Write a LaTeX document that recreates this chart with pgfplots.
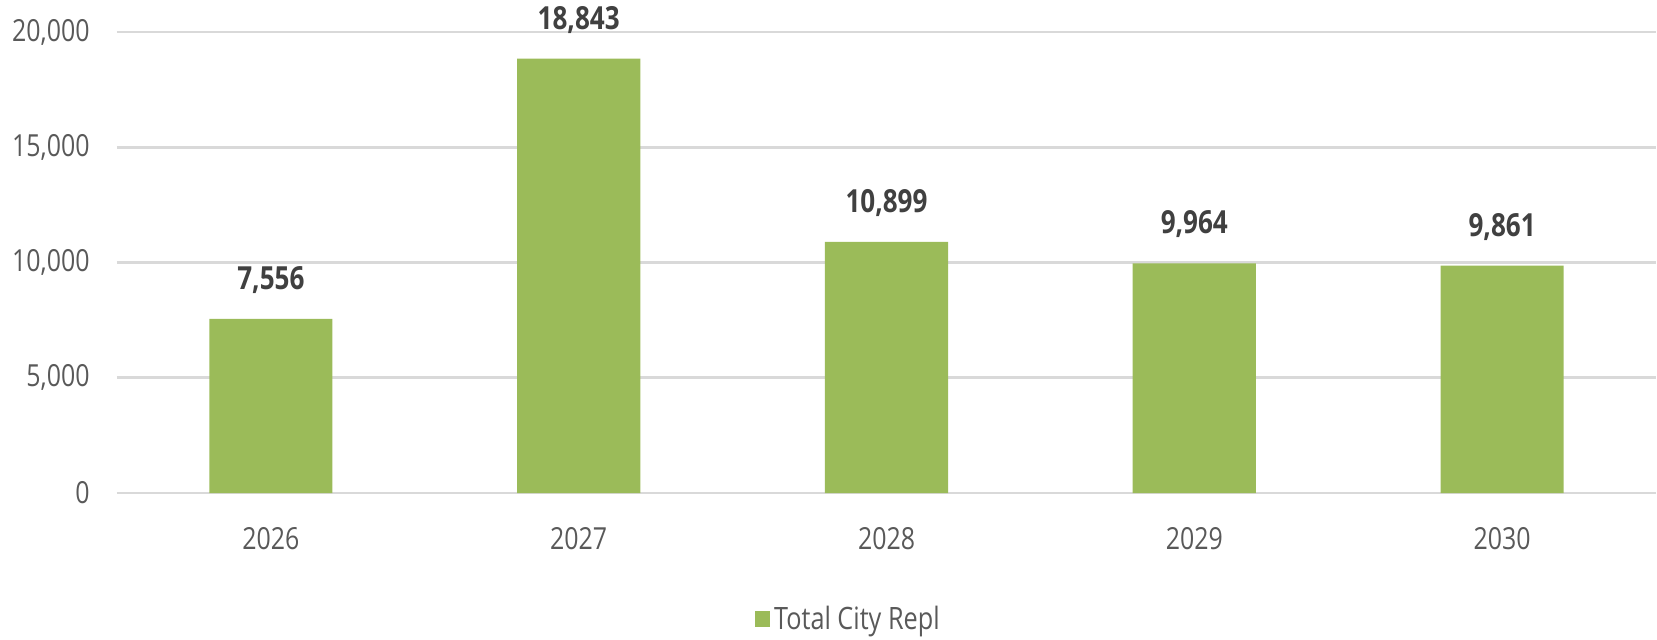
\documentclass[border=0pt]{standalone}
\usepackage{fontspec}
\setmainfont{Open Sans}[FakeStretch=0.82]
\usepackage{pgfplots}
\pgfplotsset{compat=1.18}
\definecolor{bargreen}{HTML}{9BBB59}
\definecolor{gridgray}{HTML}{D9D9D9}
\definecolor{ticktext}{HTML}{595959}
\definecolor{labeltext}{HTML}{404040}
\begin{document}
\begin{tikzpicture}
\begin{axis}[
  scale only axis,
  width=769.5pt, height=230.5pt,
  xmin=-0.5, xmax=4.5,
  ymin=0, ymax=20000,
  ytick={0,5000,10000,15000,20000},
  xtick={0,1,2,3,4},
  xticklabels={2026,2027,2028,2029,2030},
  scaled y ticks=false,
  /pgf/number format/.cd, fixed, precision=0, 1000 sep={,}, assume math mode=true,
  /pgfplots/.cd,
  axis line style={draw=none},
  major tick length=0pt,
  tick style={draw=none},
  ymajorgrids,
  grid style={gridgray, line width=1.3pt},
  ticklabel style={font=\fontsize{15.2}{18}\selectfont, text=ticktext},
  yticklabel style={inner sep=0pt, anchor=east, xshift=-13.5pt},
  xticklabel style={inner sep=0pt, anchor=north, yshift=-17pt},
  clip=false,
  legend style={draw=none, fill=none, at={(axis description cs:0.4757,-0.273)}, anchor=center,
    font=\fontsize{15.4}{18}\selectfont, text=ticktext},
  legend image code/.code={\fill[#1] (-2.2pt,-3.9pt) rectangle (5.6pt,3.9pt);},
]
\addplot[ybar, bar width=0.4, fill=bargreen, draw=none,
  nodes near coords,
  every node near coord/.append style={font=\bfseries\fontsize{15.9}{18}\selectfont, text=labeltext, inner sep=0pt, anchor=south, yshift=12.5pt}]
  coordinates {(0,7556) (1,18843) (2,10899) (3,9964) (4,9861)};
\addlegendentry{Total City Repl}
\end{axis}
\pgfresetboundingbox
\useasboundingbox (-58.5pt,-73pt) rectangle (770pt,246.5pt);
\end{tikzpicture}
\end{document}
